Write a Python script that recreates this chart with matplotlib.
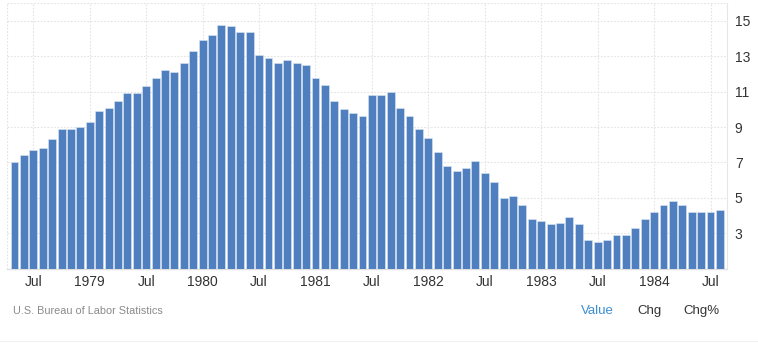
import matplotlib
matplotlib.use("Agg")
import matplotlib.pyplot as plt
import numpy as np

# Monthly values, May 1978 .. Aug 1984
values = [
    7.0, 7.4, 7.7, 7.8, 8.3, 8.9, 8.9, 9.0,                      # 1978 May-Dec
    9.3, 9.9, 10.1, 10.5, 10.9, 10.9, 11.3, 11.8, 12.2, 12.1, 12.6, 13.3,   # 1979
    13.9, 14.2, 14.8, 14.7, 14.4, 14.4, 13.1, 12.9, 12.6, 12.8, 12.6, 12.5, # 1980
    11.8, 11.4, 10.5, 10.0, 9.8, 9.6, 10.8, 10.8, 11.0, 10.1, 9.6, 8.9,     # 1981
    8.4, 7.6, 6.8, 6.5, 6.7, 7.1, 6.4, 5.9, 5.0, 5.1, 4.6, 3.8,             # 1982
    3.7, 3.5, 3.6, 3.9, 3.5, 2.6, 2.5, 2.6, 2.9, 2.9, 3.3, 3.8,             # 1983
    4.2, 4.6, 4.8, 4.6, 4.2, 4.2, 4.2, 4.3,                                 # 1984 Jan-Aug
]
tick_labels = ["Jul", "1979", "Jul", "1980", "Jul", "1981", "Jul",
               "1982", "Jul", "1983", "Jul", "1984", "Jul"]
tick_index = [2, 8, 14, 20, 26, 32, 38, 44, 50, 56, 62, 68, 74]
y_ticks = [3, 5, 7, 9, 11, 13, 15]
source = "U.S. Bureau of Labor Statistics"
tabs = ["Value", "Chg", "Chg%"]

plt.rcParams['font.family'] = ['Liberation Sans', 'DejaVu Sans']

fig = plt.figure(figsize=(7.58, 3.57), dpi=100)
ax = fig.add_axes([7 / 758, 1 - 268.5 / 357, (726.5 - 7) / 758, (268.5 - 3.3) / 357])

x = np.arange(len(values))
ax.bar(x, values, width=0.84, bottom=0, color="#4f7fbe", edgecolor="#dfe8f3",
       linewidth=0.4, zorder=3)

ax.set_xlim(-0.8, len(values) - 1 + 0.7)
ax.set_ylim(1, 16)

ax.set_xticks(tick_index)
ax.set_xticklabels(tick_labels)
ax.set_yticks(y_ticks)
ax.yaxis.tick_right()
ax.tick_params(axis='both', length=0, labelsize=10, colors="#333333")
ax.tick_params(axis='x', pad=5)
ax.tick_params(axis='y', pad=6)

ax.grid(True, axis='both', color="#e3e3e3", linestyle=(0, (1.5, 1.5)), linewidth=0.8, zorder=0)
ax.axhline(16, color="#e3e3e3", linestyle=(0, (1.5, 1.5)), linewidth=0.8, zorder=0)
ax.axvline(-0.8, color="#e3e3e3", linestyle=(0, (1.5, 1.5)), linewidth=0.8, zorder=0)

for side in ["top", "left"]:
    ax.spines[side].set_visible(False)
ax.spines["right"].set_color("#e6e6e6")
ax.spines["right"].set_linewidth(0.8)
ax.spines["bottom"].set_color("#e0e0e0")
ax.spines["bottom"].set_linewidth(1.0)

fig.text(13 / 758, 1 - 311 / 357, source, fontsize=7.8, color="#8a8a8a",
         ha="left", va="center")
tab_x = [597, 649, 701]
tab_colors = ["#3d8fd1", "#333333", "#333333"]
for t, tx, c in zip(tabs, tab_x, tab_colors):
    fig.text(tx / 758, 1 - 311 / 357, t, fontsize=9.5, color=c, ha="center", va="center")

fig.add_artist(plt.Line2D([0, 1], [1 - 341 / 357, 1 - 341 / 357], color="#f0f0f0",
                          linewidth=0.8, transform=fig.transFigure))

fig.savefig("out.png", dpi=100, facecolor="white")
